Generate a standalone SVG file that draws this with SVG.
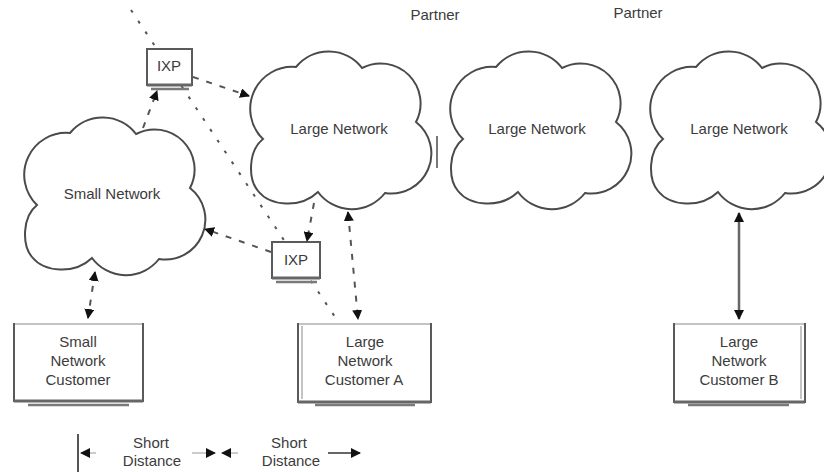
<svg xmlns="http://www.w3.org/2000/svg" xmlns:xlink="http://www.w3.org/1999/xlink" width="824" height="472" viewBox="0 0 824 472">
  <style>
    text { font-family: "Liberation Sans", Arial, sans-serif; font-size: 15px; fill: #3c3c3c; text-anchor: middle; }
    .cloud { fill: #fff; stroke: #4a4a4a; stroke-width: 2; }
    .box { fill: #fff; stroke: #5a5a5a; stroke-width: 2; }
    .topedge { stroke: #c4c4c4; stroke-width: 2; }
    .bottomedge { stroke: #666; stroke-width: 3; }
    .shadow { stroke: #7a7a7a; stroke-width: 2.5; }
    .dash { fill: none; stroke: #555; stroke-width: 2; stroke-dasharray: 6 8; }
    .dot { fill: none; stroke: #555; stroke-width: 2; stroke-dasharray: 3 10; }
    .solid { fill: none; stroke: #666; stroke-width: 2.5; }
  </style>
  <defs>
    <!-- cloud outline in local coordinates (about 182 x 158) -->
    <path id="cloudShape" d="M 13 88 A 42 42 0 0 1 46 16 A 42 42 0 0 1 112 17 A 40 40 0 0 1 166 71 A 40 40 0 0 1 135 142 A 42 42 0 0 1 68 141 C 50 158 20 155 8 140 C -2 128 -2 100 13 88 Z"/>
    <marker id="ah" viewBox="0 0 10 10" refX="9" refY="5" markerWidth="10" markerHeight="10" markerUnits="userSpaceOnUse" orient="auto-start-reverse">
      <path d="M0,0 L10,5 L0,10 z" fill="#111"/>
    </marker>
  </defs>

  <!-- long diagonal dotted link, drawn first so the boxes cover it -->
  <g id="connectors-back">
    <line class="dot" x1="131" y1="10" x2="337" y2="320"/>
  </g>

  <!-- clouds -->
  <g id="small-network">
    <use xlink:href="#cloudShape" class="cloud" transform="translate(24,117)"/>
    <text x="112" y="199">Small Network</text>
  </g>
  <g id="large-network-1">
    <use xlink:href="#cloudShape" class="cloud" transform="translate(250,51)"/>
    <text x="339" y="134">Large Network</text>
  </g>
  <g id="large-network-2">
    <use xlink:href="#cloudShape" class="cloud" transform="translate(450,51)"/>
    <text x="537" y="134">Large Network</text>
  </g>
  <g id="large-network-3">
    <use xlink:href="#cloudShape" class="cloud" transform="translate(650,51)"/>
    <text x="739" y="134">Large Network</text>
  </g>

  <!-- partner labels -->
  <g id="labels">
    <text x="435" y="20">Partner</text>
    <text x="638" y="18">Partner</text>
  </g>

  <!-- exchange points -->
  <g id="ixp-top">
    <line class="shadow" x1="151" y1="89" x2="189" y2="89"/>
    <rect class="box" x="147" y="49" width="45" height="36"/>
    <line class="bottomedge" x1="147" y1="85" x2="192" y2="85"/>
    <text x="169" y="71">IXP</text>
  </g>
  <g id="ixp-bottom">
    <line class="shadow" x1="276" y1="282" x2="317" y2="282"/>
    <rect class="box" x="272" y="242" width="48" height="36"/>
    <line class="bottomedge" x1="272" y1="278" x2="320" y2="278"/>
    <text x="296" y="265">IXP</text>
  </g>

  <!-- customers -->
  <g id="small-customer">
    <line class="shadow" x1="28" y1="405" x2="129" y2="405"/>
    <rect class="box" x="14" y="324" width="129" height="77"/>
    <line class="topedge" x1="15" y1="324" x2="142" y2="324"/>
    <line class="bottomedge" x1="14" y1="401" x2="143" y2="401"/>
    <text x="78" y="347">Small</text>
    <text x="78" y="366">Network</text>
    <text x="78" y="385">Customer</text>
  </g>
  <g id="customer-a">
    <line class="shadow" x1="315" y1="405" x2="415" y2="405"/>
    <rect class="box" x="298" y="324" width="133" height="78"/>
    <line class="topedge" x1="299" y1="324" x2="430" y2="324"/>
    <line class="topedge" x1="302" y1="326" x2="302" y2="399"/>
    <line class="bottomedge" x1="298" y1="402" x2="431" y2="402"/>
    <text x="365" y="347">Large</text>
    <text x="365" y="366">Network</text>
    <text x="364" y="385">Customer A</text>
  </g>
  <g id="customer-b">
    <line class="shadow" x1="688" y1="405" x2="789" y2="405"/>
    <rect class="box" x="674" y="324" width="131" height="78"/>
    <line class="topedge" x1="675" y1="324" x2="804" y2="324"/>
    <line class="topedge" x1="801" y1="326" x2="801" y2="399"/>
    <line class="bottomedge" x1="674" y1="402" x2="805" y2="402"/>
    <text x="739" y="347">Large</text>
    <text x="739" y="366">Network</text>
    <text x="739" y="385">Customer B</text>
  </g>

  <!-- links between networks, exchanges and customers -->
  <g id="connectors">
    <line class="dash" x1="143" y1="128" x2="157" y2="91" marker-end="url(#ah)"/>
    <line class="dash" x1="193" y1="77" x2="249" y2="96" marker-end="url(#ah)"/>
    <line class="dash" x1="271" y1="252" x2="205" y2="229" marker-end="url(#ah)"/>
    <line class="dash" x1="314" y1="203" x2="307" y2="241" marker-end="url(#ah)"/>
    <line class="dash" x1="348" y1="212" x2="358" y2="319" marker-start="url(#ah)" marker-end="url(#ah)"/>
    <line class="dash" x1="95" y1="272" x2="88" y2="318" marker-start="url(#ah)" marker-end="url(#ah)"/>
    <line class="solid" x1="739" y1="213" x2="739" y2="319" marker-start="url(#ah)" marker-end="url(#ah)"/>
    <line x1="437" y1="136" x2="437" y2="168" stroke="#777" stroke-width="2"/>
  </g>

  <!-- distance scale -->
  <g id="scale">
    <line x1="78" y1="434" x2="78" y2="472" stroke="#555" stroke-width="2"/>
    <line x1="81" y1="453" x2="96" y2="453" stroke="#999" stroke-width="1" marker-start="url(#ah)"/>
    <text x="151" y="448">Short</text>
    <text x="152" y="466">Distance</text>
    <line x1="192" y1="453" x2="215" y2="453" stroke="#999" stroke-width="1" marker-end="url(#ah)"/>
    <line x1="222" y1="453" x2="238" y2="453" stroke="#999" stroke-width="1" marker-start="url(#ah)"/>
    <text x="289" y="448">Short</text>
    <text x="291" y="466">Distance</text>
    <line x1="328" y1="453" x2="360" y2="453" stroke="#666" stroke-width="2" marker-end="url(#ah)"/>
  </g>
</svg>
